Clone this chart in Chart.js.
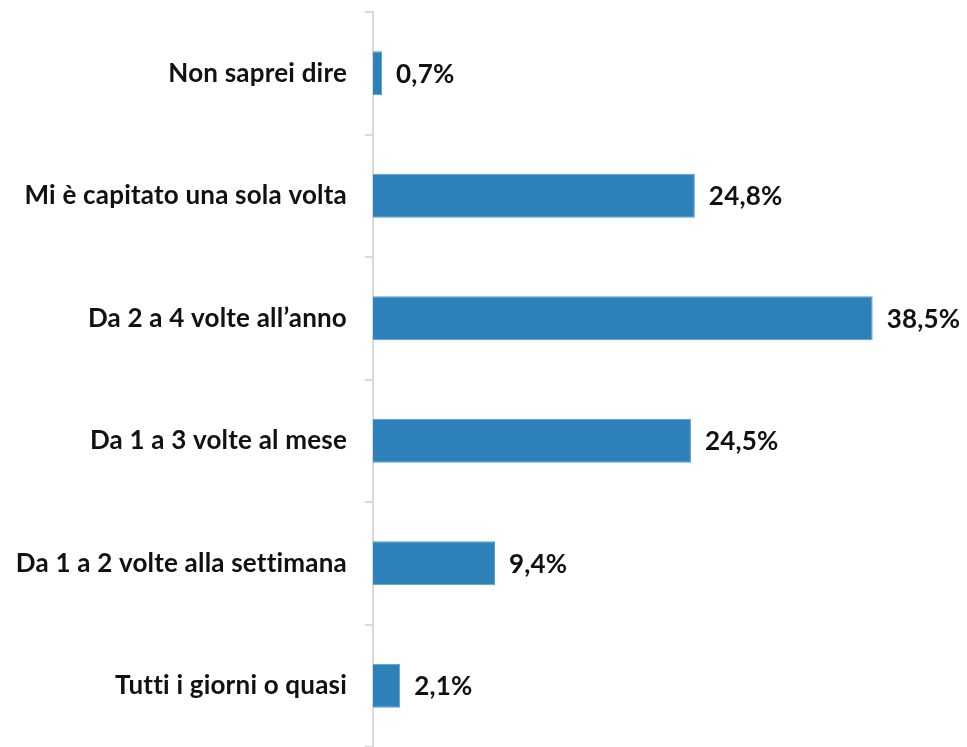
<!DOCTYPE html>
<html>
<head>
    <meta charset="UTF-8">
    <title>Frequenza</title>
    <script src="https://cdn.jsdelivr.net/npm/chart.js"></script>
    <style>
        html, body { margin: 0; padding: 0; background: #fff; }
        #wrap { width: 967px; height: 747px; }
    </style>
</head>
<body>
    <div id="wrap"><canvas id="freqChart" width="967" height="747"></canvas></div>

    <script>
        const categories = [
            'Non saprei dire',
            'Mi è capitato una sola volta',
            'Da 2 a 4 volte all’anno',
            'Da 1 a 3 volte al mese',
            'Da 1 a 2 volte alla settimana',
            'Tutti i giorni o quasi'
        ];
        const percentages = [0.7, 24.8, 38.5, 24.5, 9.4, 2.1];
        const valueLabels = ['0,7%', '24,8%', '38,5%', '24,5%', '9,4%', '2,1%'];

        const FONT = 'Lato, "Open Sans", sans-serif';

        // a tiny letter spacing keeps "tti" from turning into a ligature
        const noLigatures = {
            id: 'noLigatures',
            beforeDraw(chart) { chart.ctx.letterSpacing = '0.2px'; }
        };

        // writes the percentage to the right of each bar
        const valueLabelPlugin = {
            id: 'valueLabels',
            afterDatasetsDraw(chart) {
                const ctx = chart.ctx;
                const meta = chart.getDatasetMeta(0);
                ctx.save();
                ctx.font = 'bold 26px ' + FONT;
                ctx.fillStyle = '#111';
                ctx.textAlign = 'left';
                ctx.textBaseline = 'middle';
                meta.data.forEach((bar, i) => {
                    ctx.fillText(valueLabels[i], bar.x + 14, bar.y + 1);
                });
                ctx.restore();
            }
        };

        new Chart(document.getElementById('freqChart'), {
            type: 'bar',
            data: {
                labels: categories,
                datasets: [{
                    data: percentages,
                    backgroundColor: '#2E80B8',
                    borderColor: '#5A9DCB',
                    borderWidth: 1,
                    barPercentage: 0.36,
                    categoryPercentage: 1
                }]
            },
            options: {
                indexAxis: 'y',
                responsive: false,
                animation: false,
                layout: { padding: { top: 12, right: 10, bottom: 0, left: 0 } },
                plugins: {
                    legend: { display: false },
                    tooltip: { enabled: false }
                },
                scales: {
                    x: {
                        display: false,
                        min: 0,
                        max: 45
                    },
                    y: {
                        afterFit(scale) {
                            scale.width = 373;
                            scale.paddingTop = 0;
                            scale.paddingBottom = 0;
                        },
                        grid: {
                            offset: true,
                            drawOnChartArea: false,
                            drawTicks: true,
                            tickLength: 8,
                            color: '#d9d9d9',
                            lineWidth: 2
                        },
                        border: { color: '#d9d9d9', width: 2 },
                        ticks: {
                            padding: 18,
                            color: '#111',
                            font: { family: FONT, size: 26, weight: 'bold' }
                        }
                    }
                }
            },
            plugins: [noLigatures, valueLabelPlugin]
        });
    </script>
</body>
</html>
